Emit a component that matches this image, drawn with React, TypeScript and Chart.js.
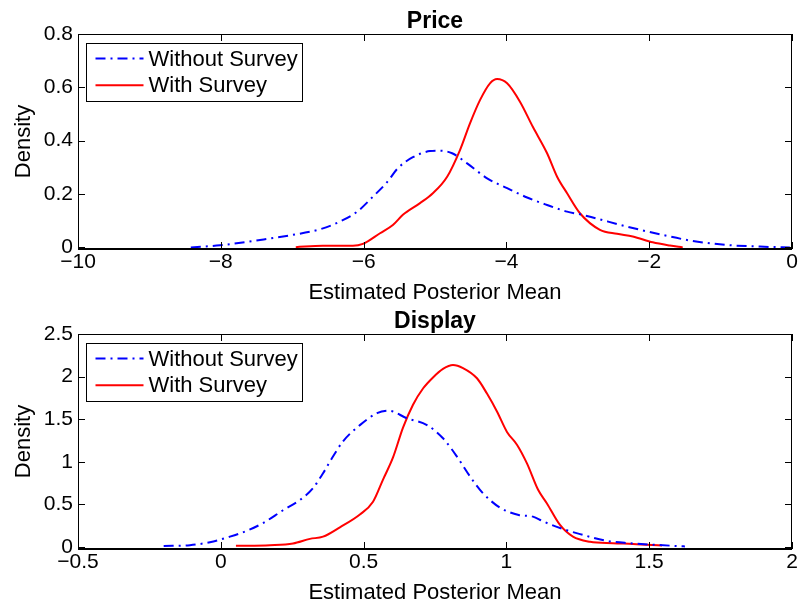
import React, { useEffect, useRef } from "react";
import { Chart, registerables } from "chart.js";

Chart.register(...registerables);

const SERIES_LABELS = ["Without Survey", "With Survey"];
const X_AXIS_TITLE = "Estimated Posterior Mean";
const Y_AXIS_TITLE = "Density";

// ---- Price panel ----
const PRICE_TITLE = "Price";
const PRICE_WITHOUT_X = [-8.42, -8.01, -7.45, -6.99, -6.61, -6.33, -6.09, -5.87, -5.67, -5.52, -5.31, -5.07, -4.93, -4.76, -4.55, -4.27, -3.99, -3.71, -3.43, -3.15, -2.97, -2.79, -2.31, -1.85, -1.39, -0.91, -0.45, -0.03];
const PRICE_WITHOUT_Y = [0.0, 0.008, 0.028, 0.047, 0.068, 0.097, 0.134, 0.19, 0.245, 0.297, 0.338, 0.361, 0.3625, 0.353, 0.315, 0.259, 0.222, 0.187, 0.159, 0.134, 0.124, 0.112, 0.078, 0.049, 0.024, 0.009, 0.003, 0.0];
const PRICE_WITH_X = [-6.95, -6.57, -6.15, -6.01, -5.77, -5.59, -5.45, -5.21, -5.03, -4.83, -4.65, -4.51, -4.37, -4.23, -4.13, -3.99, -3.81, -3.63, -3.43, -3.29, -3.15, -2.97, -2.69, -2.45, -2.23, -1.95, -1.71, -1.53];
const PRICE_WITH_Y = [0.001, 0.006, 0.006, 0.013, 0.053, 0.084, 0.122, 0.166, 0.203, 0.265, 0.365, 0.465, 0.552, 0.615, 0.631, 0.615, 0.546, 0.452, 0.353, 0.265, 0.203, 0.128, 0.066, 0.051, 0.041, 0.019, 0.007, 0.0];
const PRICE_X_TICKS = [-10, -8, -6, -4, -2, 0];
const PRICE_X_TICK_LABELS = ["\u221210", "\u22128", "\u22126", "\u22124", "\u22122", "0"];
const PRICE_Y_TICKS = [0, 0.2, 0.4, 0.6, 0.8];
const PRICE_Y_TICK_LABELS = ["0", "0.2", "0.4", "0.6", "0.8"];
const PRICE_X_RANGE = [-10, 0];
const PRICE_Y_RANGE = [-0.006, 0.8];

// ---- Display panel ----
const DISPLAY_TITLE = "Display";
const DISPLAY_WITHOUT_X = [-0.2, -0.108, -0.038, 0.032, 0.092, 0.148, 0.218, 0.277, 0.323, 0.358, 0.389, 0.428, 0.487, 0.547, 0.587, 0.652, 0.722, 0.778, 0.827, 0.873, 0.918, 0.978, 1.043, 1.093, 1.128, 1.198, 1.258, 1.352, 1.433, 1.527, 1.625];
const DISPLAY_WITHOUT_Y = [0.01, 0.02, 0.055, 0.12, 0.19, 0.28, 0.43, 0.55, 0.69, 0.865, 1.04, 1.24, 1.43, 1.57, 1.6, 1.51, 1.43, 1.275, 1.06, 0.825, 0.63, 0.46, 0.375, 0.355, 0.3, 0.21, 0.15, 0.07, 0.043, 0.023, 0.005];
const DISPLAY_WITH_X = [0.053, 0.172, 0.253, 0.312, 0.358, 0.417, 0.487, 0.533, 0.568, 0.603, 0.638, 0.673, 0.708, 0.743, 0.778, 0.813, 0.848, 0.897, 0.932, 0.967, 1.002, 1.037, 1.072, 1.111, 1.142, 1.187, 1.233, 1.293, 1.373, 1.443, 1.545];
const DISPLAY_WITH_Y = [0.012, 0.02, 0.04, 0.094, 0.12, 0.23, 0.38, 0.53, 0.79, 1.05, 1.4, 1.67, 1.86, 1.99, 2.09, 2.136, 2.1, 1.98, 1.8, 1.59, 1.35, 1.2, 0.98, 0.67, 0.51, 0.26, 0.12, 0.06, 0.043, 0.035, 0.015];
const DISPLAY_X_TICKS = [-0.5, 0, 0.5, 1, 1.5, 2];
const DISPLAY_X_TICK_LABELS = ["\u22120.5", "0", "0.5", "1", "1.5", "2"];
const DISPLAY_Y_TICKS = [0, 0.5, 1, 1.5, 2, 2.5];
const DISPLAY_Y_TICK_LABELS = ["0", "0.5", "1", "1.5", "2", "2.5"];
const DISPLAY_X_RANGE = [-0.5, 2];
const DISPLAY_Y_RANGE = [-0.025, 2.5];

const FONT = "'Liberation Sans', Arial, Helvetica, sans-serif";
const CANVAS_W = 801;
const CANVAS_H = 306;

const framePlugin = {
  id: "matlabFrame",
  afterDatasetsDraw(chart: any) {
    const { ctx, chartArea: a, scales } = chart;
    const xs = scales.x;
    const ys = scales.y;
    const L = 7;
    ctx.save();
    ctx.strokeStyle = "#000";
    ctx.lineWidth = 1;
    ctx.setLineDash([]);
    ctx.beginPath();
    xs.ticks.forEach((t: any) => {
      const px = Math.round(xs.getPixelForValue(t.value)) + 0.5;
      ctx.moveTo(px, a.bottom);
      ctx.lineTo(px, a.bottom - L);
      ctx.moveTo(px, a.top);
      ctx.lineTo(px, a.top + L);
    });
    ys.ticks.forEach((t: any) => {
      const py = Math.round(ys.getPixelForValue(t.value)) + 0.5;
      ctx.moveTo(a.left, py);
      ctx.lineTo(a.left + L, py);
      ctx.moveTo(a.right, py);
      ctx.lineTo(a.right - L, py);
    });
    ctx.stroke();
    ctx.strokeRect(a.left + 0.5, a.top + 0.5, a.right - a.left - 1, a.bottom - a.top);
    ctx.lineWidth = 2;
    ctx.beginPath();
    ctx.moveTo(a.left, a.bottom);
    ctx.lineTo(a.right, a.bottom);
    ctx.stroke();

    // legend box (MATLAB style, upper-left inside axes)
    const bx = a.left + 8.5;
    const by = a.top + 9.5;
    const bw = 216;
    const bh = 58;
    ctx.fillStyle = "#fff";
    ctx.fillRect(bx, by, bw, bh);
    ctx.lineWidth = 1;
    ctx.strokeStyle = "#000";
    ctx.strokeRect(bx, by, bw, bh);
    ctx.font = `22px ${FONT}`;
    ctx.textBaseline = "middle";
    ctx.textAlign = "left";
    chart.data.datasets.forEach((ds: any, i: number) => {
      const ly = by + 15 + i * 26.7;
      ctx.save();
      ctx.strokeStyle = ds.borderColor;
      ctx.lineWidth = ds.borderWidth;
      ctx.setLineDash(ds.borderDash || []);
      ctx.beginPath();
      ctx.moveTo(bx + 9, ly);
      ctx.lineTo(bx + 57, ly);
      ctx.stroke();
      ctx.restore();
      ctx.fillStyle = "#000";
      ctx.fillText(ds.label, bx + 62, ly + 1);
    });
    ctx.restore();
  },
};

type PanelProps = {
  top: number;
  title: string;
  withoutX: number[];
  withoutY: number[];
  withX: number[];
  withY: number[];
  xTicks: number[];
  xTickLabels: string[];
  yTicks: number[];
  yTickLabels: string[];
  xRange: number[];
  yRange: number[];
};

function Panel(p: PanelProps) {
  const ref = useRef<HTMLCanvasElement | null>(null);
  useEffect(() => {
    if (!ref.current) return;
    const chart = new Chart(ref.current, {
      type: "line",
      data: {
        datasets: [
          {
            label: SERIES_LABELS[0],
            data: p.withoutX.map((x, i) => ({ x, y: p.withoutY[i] })),
            borderColor: "#0000ff",
            borderWidth: 2,
            borderDash: [10, 5, 2, 5],
            pointRadius: 0,
            cubicInterpolationMode: "monotone",
            fill: false,
          },
          {
            label: SERIES_LABELS[1],
            data: p.withX.map((x, i) => ({ x, y: p.withY[i] })),
            borderColor: "#ff0000",
            borderWidth: 2,
            pointRadius: 0,
            cubicInterpolationMode: "monotone",
            fill: false,
          },
        ],
      },
      options: {
        animation: false,
        responsive: false,
        devicePixelRatio: 1,
        layout: { padding: { left: 0, right: 9, top: 0, bottom: 0 } },
        plugins: {
          legend: { display: false },
          tooltip: { enabled: false },
          title: {
            display: true,
            text: p.title,
            fullSize: false,
            color: "#000",
            font: { size: 23, weight: "bold", family: FONT, lineHeight: 1 },
            padding: { top: 10.2, bottom: 0.8 },
          },
        },
        scales: {
          x: {
            type: "linear",
            min: p.xRange[0],
            max: p.xRange[1],
            grid: { display: false, drawTicks: false },
            border: { display: false },
            afterBuildTicks: (s: any) => {
              s.ticks = p.xTicks.map((v) => ({ value: v }));
            },
            afterFit: (s: any) => {
              s.height = CANVAS_H - 249;
            },
            ticks: {
              color: "#000",
              padding: 3,
              maxRotation: 0,
              autoSkip: false,
              font: { size: 21, family: FONT, lineHeight: 1 },
              callback: (_v: any, i: number) => p.xTickLabels[i],
            },
            title: {
              display: true,
              text: X_AXIS_TITLE,
              color: "#000",
              font: { size: 22, family: FONT },
              padding: { top: 0, bottom: 0 },
            },
          },
          y: {
            type: "linear",
            min: p.yRange[0],
            max: p.yRange[1],
            grid: { display: false, drawTicks: false },
            border: { display: false },
            afterBuildTicks: (s: any) => {
              s.ticks = p.yTicks.map((v) => ({ value: v }));
            },
            afterFit: (s: any) => {
              s.width = 78;
            },
            ticks: {
              color: "#000",
              padding: 5,
              autoSkip: false,
              font: { size: 21, family: FONT },
              callback: (_v: any, i: number) => p.yTickLabels[i],
            },
            title: {
              display: true,
              text: Y_AXIS_TITLE,
              color: "#000",
              font: { size: 22, family: FONT },
              padding: { top: 10.5, bottom: 0 },
            },
          },
        },
      },
      plugins: [framePlugin],
    } as any);
    return () => chart.destroy();
  }, []);
  return (
    <canvas
      ref={ref}
      width={CANVAS_W}
      height={CANVAS_H}
      style={{ position: "absolute", left: 0, top: p.top, width: CANVAS_W, height: CANVAS_H }}
    />
  );
}

export default function App() {
  return (
    <div style={{ position: "absolute", left: 0, top: 0, width: 801, height: 606, background: "#fff" }}>
      <Panel
        top={0}
        title={PRICE_TITLE}
        withoutX={PRICE_WITHOUT_X}
        withoutY={PRICE_WITHOUT_Y}
        withX={PRICE_WITH_X}
        withY={PRICE_WITH_Y}
        xTicks={PRICE_X_TICKS}
        xTickLabels={PRICE_X_TICK_LABELS}
        yTicks={PRICE_Y_TICKS}
        yTickLabels={PRICE_Y_TICK_LABELS}
        xRange={PRICE_X_RANGE}
        yRange={PRICE_Y_RANGE}
      />
      <Panel
        top={300}
        title={DISPLAY_TITLE}
        withoutX={DISPLAY_WITHOUT_X}
        withoutY={DISPLAY_WITHOUT_Y}
        withX={DISPLAY_WITH_X}
        withY={DISPLAY_WITH_Y}
        xTicks={DISPLAY_X_TICKS}
        xTickLabels={DISPLAY_X_TICK_LABELS}
        yTicks={DISPLAY_Y_TICKS}
        yTickLabels={DISPLAY_Y_TICK_LABELS}
        xRange={DISPLAY_X_RANGE}
        yRange={DISPLAY_Y_RANGE}
      />
    </div>
  );
}
